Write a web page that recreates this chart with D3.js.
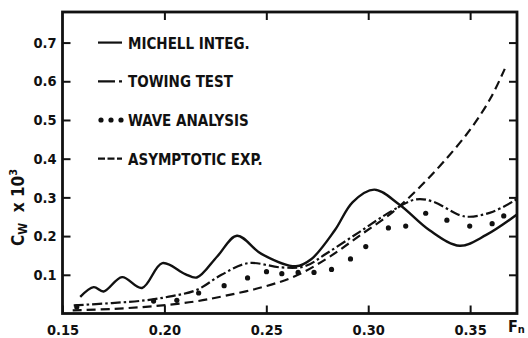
<!DOCTYPE html>
<meta charset="utf-8">
<script src="https://d3js.org/d3.v7.min.js"></script>
<style>
  body { margin: 0; background: #fff; }
  text { font-family: "DejaVu Sans Condensed", "Liberation Sans Narrow", "DejaVu Sans", sans-serif; font-weight: bold; fill: #111; }
</style>
<div id="my_dataviz"></div>
<script>

// data (Fn, Cw x 10^3)
var michellFn  = [0.1587, 0.1653, 0.1702, 0.1792, 0.1890, 0.1990, 0.2102, 0.2159, 0.2260, 0.2356, 0.2476, 0.2645, 0.2720, 0.2836, 0.2924, 0.3030, 0.3154, 0.3301, 0.3449, 0.3579, 0.3728];
var michellCw  = [0.043, 0.068, 0.057, 0.094, 0.066, 0.130, 0.102, 0.093, 0.148, 0.201, 0.154, 0.122, 0.140, 0.215, 0.288, 0.320, 0.281, 0.215, 0.175, 0.203, 0.255];

var towingFn = [0.1555, 0.1743, 0.1906, 0.2037, 0.2159, 0.2280, 0.2411, 0.2575, 0.2689, 0.2795, 0.2958, 0.3122, 0.3236, 0.3318, 0.3449, 0.3498, 0.3612, 0.3728];
var towingCw = [0.021, 0.027, 0.034, 0.045, 0.061, 0.100, 0.130, 0.119, 0.122, 0.155, 0.211, 0.267, 0.295, 0.289, 0.254, 0.250, 0.263, 0.295];

var waveFn = [0.157, 0.1947, 0.2061, 0.2168, 0.2293, 0.2408, 0.2501, 0.2576, 0.2656, 0.2734, 0.2820, 0.2913, 0.2988, 0.3099, 0.3184, 0.3282, 0.3386, 0.3498, 0.3608, 0.3665];
var waveCw = [0.017, 0.032, 0.034, 0.053, 0.072, 0.092, 0.108, 0.103, 0.106, 0.106, 0.114, 0.141, 0.173, 0.221, 0.226, 0.259, 0.241, 0.226, 0.232, 0.252];

var asymFn = [0.1550, 0.1750, 0.1950, 0.2150, 0.2300, 0.2480, 0.2640, 0.2800, 0.2960, 0.3120, 0.3250, 0.3370, 0.3500, 0.3600, 0.3670];
var asymCw = [0.008, 0.012, 0.019, 0.031, 0.046, 0.068, 0.096, 0.143, 0.202, 0.262, 0.325, 0.392, 0.475, 0.556, 0.632];

var xTicks = [0.15, 0.20, 0.25, 0.30, 0.35];
var yTicks = [0.1, 0.2, 0.3, 0.4, 0.5, 0.6, 0.7];
var legendLabels = ["MICHELL INTEG.", "TOWING TEST", "WAVE ANALYSIS", "ASYMPTOTIC EXP."];

function zip(a, b) { return a.map(function(v, i) { return [v, b[i]]; }); }

var margin = {top: 12, right: 11, bottom: 24.5, left: 62.5},
    width = 528 - margin.left - margin.right,
    height = 338 - margin.top - margin.bottom;

var svg = d3.select("#my_dataviz")
  .append("svg")
    .attr("width", 528)
    .attr("height", 338)
  .append("g")
    .attr("transform", "translate(" + margin.left + "," + margin.top + ")");

var x = d3.scaleLinear().domain([0.15, 0.373]).range([0, width]);
var y = d3.scaleLinear().domain([0, 0.779]).range([height, 0]);

var line = d3.line()
  .x(function(d) { return x(d[0]); })
  .y(function(d) { return y(d[1]); })
  .curve(d3.curveCatmullRom.alpha(0.5));

svg.append("defs").append("clipPath").attr("id", "clip")
  .append("rect").attr("width", width).attr("height", height);

var plot = svg.append("g").attr("clip-path", "url(#clip)");

// curves
plot.append("path").datum(zip(asymFn, asymCw))
  .attr("d", line).attr("fill", "none").attr("stroke", "#111")
  .attr("stroke-width", 2.2).attr("stroke-dasharray", "9,5");

plot.append("path").datum(zip(towingFn, towingCw))
  .attr("d", line).attr("fill", "none").attr("stroke", "#111")
  .attr("stroke-width", 2.2).attr("stroke-dasharray", "10,3,2.5,3");

plot.append("path").datum(zip(michellFn, michellCw))
  .attr("d", line).attr("fill", "none").attr("stroke", "#111")
  .attr("stroke-width", 2.4);

plot.selectAll("circle.wave")
  .data(zip(waveFn, waveCw))
  .enter().append("circle")
    .attr("class", "wave")
    .attr("cx", function(d) { return x(d[0]); })
    .attr("cy", function(d) { return y(d[1]); })
    .attr("r", 2.6)
    .attr("fill", "#111");

// frame
svg.append("rect")
  .attr("width", width).attr("height", height)
  .attr("fill", "none").attr("stroke", "#111").attr("stroke-width", 2.8);

// axes, ticks pointing inward
var tk = 8;
svg.append("g")
  .attr("transform", "translate(0," + height + ")")
  .call(d3.axisBottom(x).tickValues(xTicks).tickSize(-tk).tickPadding(11).tickFormat(d3.format(".2f")))
  .call(function(g) { g.select(".domain").remove(); });
svg.append("g")
  .call(d3.axisTop(x).tickValues(xTicks.slice(1)).tickSize(-tk).tickFormat(""))
  .call(function(g) { g.select(".domain").remove(); });
svg.append("g")
  .call(d3.axisLeft(y).tickValues(yTicks).tickSize(-tk).tickPadding(6).tickFormat(d3.format(".1f")))
  .call(function(g) { g.select(".domain").remove(); });
svg.append("g")
  .attr("transform", "translate(" + width + ",0)")
  .call(d3.axisRight(y).tickValues(yTicks).tickSize(-tk).tickFormat(""))
  .call(function(g) { g.select(".domain").remove(); });

svg.selectAll(".tick line").attr("stroke", "#111").attr("stroke-width", 2);
svg.selectAll(".tick text").attr("font-size", 14.5).attr("fill", "#111")
  .style("font-family", "'DejaVu Sans Condensed', 'Liberation Sans Narrow', sans-serif")
  .style("font-weight", "bold");

// axis titles
svg.append("text")
  .attr("x", width - 9).attr("y", height + 18)
  .attr("font-size", 16)
  .html('F<tspan font-size="11" dy="1.5">n</tspan>');

svg.append("text")
  .attr("transform", "translate(" + (-39) + "," + 234 + ") rotate(-90)")
  .attr("font-size", 17)
  .html('C<tspan font-size="12" dy="3">W</tspan><tspan dy="-3" xml:space="preserve">  x 10</tspan><tspan font-size="11" dy="-7">3</tspan>');

// legend
var lx0 = 98 - margin.left, lx1 = 122 - margin.left;
var legend = svg.selectAll("g.leg")
  .data(legendLabels)
  .enter().append("g")
    .attr("class", "leg")
    .attr("transform", function(d, i) { return "translate(0," + y(yTicks[6 - i]) + ")"; });

legend.append("text")
  .attr("x", 128 - margin.left).attr("y", 6)
  .attr("font-size", 15)
  .text(function(d) { return d; });

legend.filter(function(d, i) { return i !== 2; })
  .append("line")
    .attr("x1", lx0).attr("x2", function(d, i) { return i === 1 ? lx1 + 2 : lx1; })
    .attr("stroke", "#111").attr("stroke-width", 2.2)
    .attr("stroke-dasharray", function(d, i) { return i === 0 ? null : (i === 1 ? "17,4,3,9" : "7,2.5"); });

legend.filter(function(d, i) { return i === 2; })
  .selectAll("circle").data([101, 111, 121]).enter().append("circle")
    .attr("cx", function(d) { return d - margin.left; }).attr("cy", 0)
    .attr("r", 2.6).attr("fill", "#111");

</script>
